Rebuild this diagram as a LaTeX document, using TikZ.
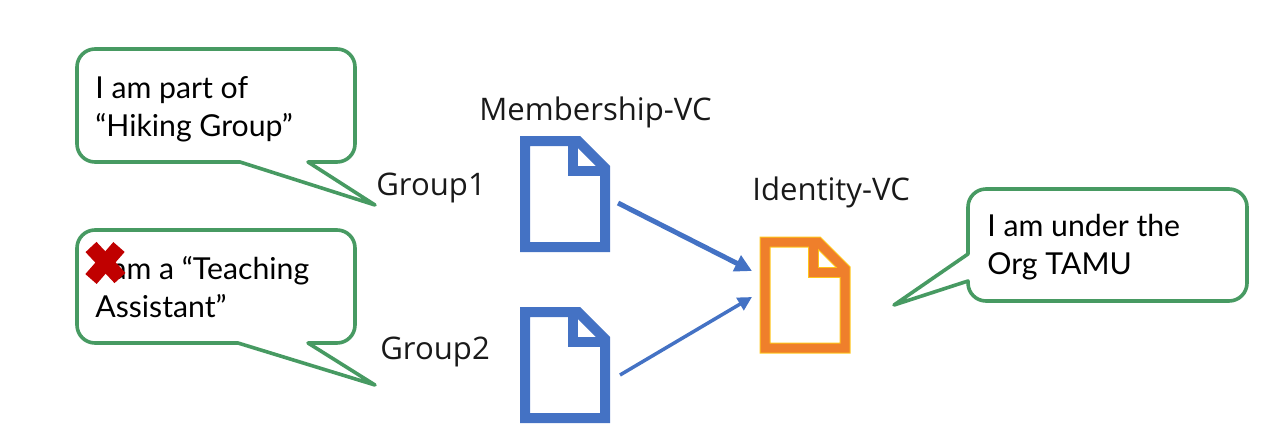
\documentclass[tikz,border=0pt]{standalone}
\usepackage{fontspec}
\setmainfont{Lato}
\newfontfamily\labelfont{Open Sans}
\usetikzlibrary{positioning, calc, arrows.meta}

\definecolor{bubblegreen}{HTML}{479A62}
\definecolor{docblue}{HTML}{4472C4}
\definecolor{docorange}{HTML}{EF7F2B}
\definecolor{docyellow}{HTML}{FFC51A}
\definecolor{crossred}{HTML}{C00000}

\tikzset{
    bubble/.style={draw=bubblegreen, line width=3.6*0.02cm, line join=round, fill=white},
    saytext/.style={anchor=west, align=left, inner sep=0pt, font=\fontsize{17.2}{21.6}\selectfont},
    vclabel/.style={anchor=base west, inner sep=0pt, font=\labelfont\fontsize{17.7}{21}\selectfont, text=black!90},
    link/.style={-{Triangle[length=0.34cm, width=0.34cm]}, docblue},
    crossbar/.style={crossred, line width=0.3cm},
    pics/docicon/.style={code={
        \draw[#1, line join=miter] (0,0) -- (53,0) -- (80,27) -- (80,106) -- (0,106) -- cycle;
        \draw[#1, line join=miter] (48,0) -- (48,30) -- (80,30);
    }},
}

\begin{document}
\begin{tikzpicture}[x=0.02cm, y=-0.02cm]
    \useasboundingbox (0,0) rectangle (1266,443);

    % bubble Hiking Group
    \draw[bubble] (95,49) -- (337,49) arc[start angle=-90, end angle=0, radius=18] -- (355,144)
        arc[start angle=0, end angle=90, radius=18] -- (308,162) -- (375,205) -- (240,162) -- (95,162)
        arc[start angle=90, end angle=180, radius=18] -- (77,67) arc[start angle=180, end angle=270, radius=18] -- cycle;
    \node[saytext] (hiking) at (95,109) {I am part of\\``Hiking Group''};

    % bubble Teaching Assistant
    \draw[bubble] (95,230) -- (337,230) arc[start angle=-90, end angle=0, radius=18] -- (355,325)
        arc[start angle=0, end angle=90, radius=18] -- (308,343) -- (375,385) -- (238,343) -- (95,343)
        arc[start angle=90, end angle=180, radius=18] -- (77,248) arc[start angle=180, end angle=270, radius=18] -- cycle;
    \node[saytext] (teaching) at (95,287) {I am a ``Teaching\\Assistant''};

    % bubble Org
    \draw[bubble] (986,189) -- (1229,189) arc[start angle=-90, end angle=0, radius=18] -- (1247,283)
        arc[start angle=0, end angle=90, radius=18] -- (986,301) arc[start angle=90, end angle=180, radius=18]
        -- (968,281) -- (894,305) -- (968,254) -- (968,207) arc[start angle=180, end angle=270, radius=18] -- cycle;
    \node[saytext] (org) at (987,247) {I am under the\\Org TAMU};

    % labels
    \node[vclabel] (member) at (479,120) {Membership-VC};
    \node[vclabel] (identity) at (752,200) {Identity-VC};
    \node[vclabel] (groupa) at (376,195) {Group1};
    \node[vclabel] (groupb) at (380,359) {Group2};

    % documents
    \pic at (525,141) {docicon={docblue, line width=0.2cm}};
    \pic at (525,312) {docicon={docblue, line width=0.2cm}};
    \pic at (765,242) {docicon={docyellow, line width=0.22cm}};
    \pic at (765,242) {docicon={docorange, line width=0.18cm}};

    % arrows
    \coordinate (doca) at (618,203);
    \coordinate (docb) at (620,375);
    \coordinate (targeta) at (752,271);
    \coordinate (targetb) at (752,297);
    \draw[link, line width=0.1cm] (doca) -- (targeta);
    \draw[link, line width=0.07cm, -{Triangle[length=0.28cm, width=0.28cm]}] (docb) -- (targetb);

    % red cross
    \draw[crossbar] (91,247) -- (120,278);
    \draw[crossbar] (119,247) -- (91,279);
\end{tikzpicture}
\end{document}
